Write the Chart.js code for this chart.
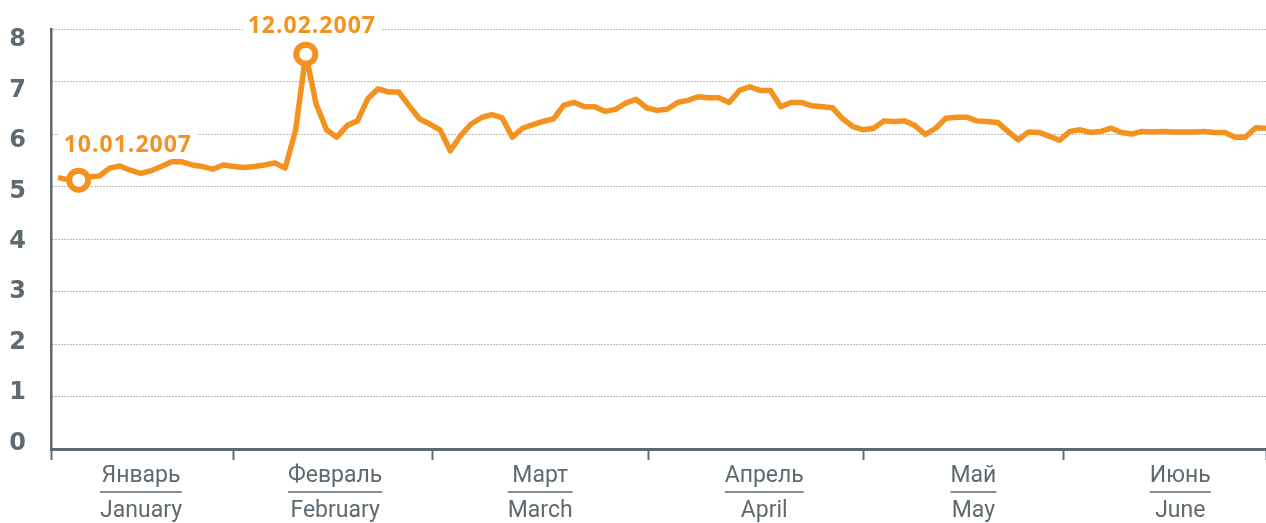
<!DOCTYPE html>
<html>
<head>
<meta charset="utf-8">
<script src="https://cdn.jsdelivr.net/npm/chart.js@4.4.0/dist/chart.umd.min.js"></script>
<style>
  html, body { margin: 0; padding: 0; background: #fff; }
  #wrap { width: 1266px; height: 523px; }
</style>
</head>
<body>
<div id="wrap"><canvas id="chart" width="1266" height="523"></canvas></div>
<script>
// Значения по торговым дням, январь – июнь 2007
const values = [
  5.17, 5.13, 5.12, 5.18, 5.20, 5.35, 5.39, 5.31, 5.25, 5.30,
  5.38, 5.47, 5.47, 5.41, 5.38, 5.33, 5.41, 5.38, 5.36, 5.38,
  5.41, 5.45, 5.35, 6.06, 7.52, 6.57, 6.08, 5.94, 6.16, 6.25,
  6.67, 6.86, 6.80, 6.80, 6.54, 6.29, 6.19, 6.08, 5.68, 5.97,
  6.19, 6.31, 6.37, 6.31, 5.94, 6.11, 6.18, 6.24, 6.29, 6.55,
  6.60, 6.52, 6.52, 6.43, 6.47, 6.59, 6.66, 6.50, 6.45, 6.47,
  6.60, 6.64, 6.71, 6.69, 6.69, 6.60, 6.83, 6.90, 6.83, 6.83,
  6.52, 6.60, 6.60, 6.54, 6.52, 6.50, 6.29, 6.14, 6.08, 6.11,
  6.25, 6.24, 6.25, 6.16, 5.99, 6.11, 6.30, 6.32, 6.32, 6.25,
  6.24, 6.22, 6.05, 5.89, 6.04, 6.03, 5.96, 5.88, 6.05, 6.08,
  6.03, 6.05, 6.11, 6.03, 6.00, 6.05, 6.04, 6.05, 6.04, 6.04,
  6.04, 6.05, 6.03, 6.03, 5.94, 5.94, 6.12, 6.11
];

// отмеченные точки
const markerIndex = [2, 24];
const markerLabels = ['10.01.2007', '12.02.2007'];

// подписи месяцев
const monthsRu = ['Январь', 'Февраль', 'Март', 'Апрель', 'Май', 'Июнь'];
const monthsEn = ['January', 'February', 'March', 'April', 'May', 'June'];
const monthEdges = [-0.68, 17, 36.3, 57.2, 78, 97.35, 117];
const monthCenters = [8.04, 26.84, 46.7, 68.4, 88.66, 108.7];

const yTicks = [0, 1, 2, 3, 4, 5, 6, 7, 8];

const ORANGE = '#F3921F';
const GREY = '#5E6A71';

// убрать автоматические отступы под крайние подписи
function noPad(s) {
  s.paddingTop = 0;
  s.paddingBottom = 0;
  s.paddingLeft = 0;
  s.paddingRight = 0;
}

// Подписи дат над отмеченными точками (с белой подложкой, разрывающей сетку)
const markerLabelPlugin = {
  id: 'markerLabels',
  beforeDatasetsDraw(chart, args, opts) {
    const meta = chart.getDatasetMeta(0);
    const ctx = chart.ctx;
    ctx.save();
    ctx.font = opts.font;
    ctx.letterSpacing = opts.letterSpacing;
    markerIndex.forEach((idx, k) => {
      const pt = meta.data[idx];
      const off = opts.offsets[k];
      const text = markerLabels[k];
      const w = ctx.measureText(text).width;
      const left = off.align === 'center' ? pt.x + off.dx - w / 2 : pt.x + off.dx;
      const base = pt.y + off.dy;
      ctx.fillStyle = '#fff';
      ctx.fillRect(left - 5, base - 22, w + 10, 28);
      ctx.fillStyle = opts.color;
      ctx.textAlign = 'left';
      ctx.textBaseline = 'alphabetic';
      ctx.fillText(text, left, base);
    });
    ctx.restore();
  }
};

// Черта между русской и английской подписью месяца
const monthRulePlugin = {
  id: 'monthRule',
  afterDraw(chart, args, opts) {
    const s = chart.scales.xm;
    const ctx = chart.ctx;
    ctx.save();
    ctx.font = opts.font;
    ctx.strokeStyle = opts.color;
    ctx.lineWidth = opts.width;
    s.ticks.forEach((t, i) => {
      const w = Math.max(ctx.measureText(monthsRu[i]).width, ctx.measureText(monthsEn[i]).width);
      const x = s.getPixelForValue(t.value);
      const y = s.top + opts.dy;
      ctx.beginPath();
      ctx.moveTo(x - w / 2, y);
      ctx.lineTo(x + w / 2, y);
      ctx.stroke();
    });
    ctx.restore();
  }
};

const ctx = document.getElementById('chart').getContext('2d');

new Chart(ctx, {
  type: 'line',
  data: {
    datasets: [{
      data: values.map((v, i) => ({ x: i, y: v })),
      borderColor: ORANGE,
      borderWidth: 5.5,
      borderJoinStyle: 'round',
      tension: 0,
      pointRadius: values.map((_, i) => markerIndex.includes(i) ? 9.5 : 0),
      pointBorderWidth: 6,
      pointBackgroundColor: '#fff',
      pointBorderColor: ORANGE
    }]
  },
  options: {
    responsive: false,
    animation: false,
    events: [],
    layout: { padding: { top: 29, left: 0, right: 0, bottom: 0 } },
    plugins: {
      legend: { display: false },
      tooltip: { enabled: false },
      markerLabels: {
        font: 'bold 23px "Open Sans"',
        letterSpacing: '1px',
        color: ORANGE,
        offsets: [
          { dx: -15, dy: -28, align: 'left' },
          { dx: 6, dy: -21, align: 'center' }
        ]
      },
      monthRule: { font: '23px Roboto', color: GREY, width: 1.6, dy: 35 }
    },
    scales: {
      x: {
        type: 'linear',
        min: monthEdges[0],
        max: monthEdges[monthEdges.length - 1],
        afterBuildTicks: (s) => { s.ticks = monthEdges.map(v => ({ value: v })); },
        ticks: { display: false },
        grid: { drawOnChartArea: false, drawTicks: true, tickLength: 11, tickWidth: 2, tickColor: GREY },
        border: { display: true, color: GREY, width: 3 },
        afterFit: (s) => { s.height = 8; noPad(s); }
      },
      xm: {
        type: 'linear',
        position: 'bottom',
        weight: 1,
        min: monthEdges[0],
        max: monthEdges[monthEdges.length - 1],
        afterBuildTicks: (s) => { s.ticks = monthCenters.map(v => ({ value: v })); },
        ticks: {
          autoSkip: false,
          maxRotation: 0,
          padding: 2,
          color: GREY,
          font: { family: 'Roboto', size: 23, lineHeight: 1.52 },
          callback: (v, i) => [monthsRu[i], monthsEn[i]]
        },
        grid: { display: false, drawTicks: false },
        border: { display: false },
        afterFit: (s) => { s.height = 66; noPad(s); }
      },
      y: {
        min: 0,
        max: 8,
        afterBuildTicks: (s) => { s.ticks = yTicks.map(v => ({ value: v })); },
        ticks: { display: false },
        grid: { color: '#7d7d7d', lineWidth: 1, drawTicks: false },
        border: { display: true, color: GREY, width: 2.5, dash: [1, 2] },
        afterFit: (s) => { s.width = 0; noPad(s); }
      },
      yl: {
        position: 'left',
        weight: 1,
        min: -0.109,
        max: 8.218,
        afterBuildTicks: (s) => { s.ticks = yTicks.map(v => ({ value: v })); },
        ticks: {
          color: GREY,
          crossAlign: 'center',
          padding: 25,
          font: { family: 'DejaVu Sans', weight: 'bold', size: 24 }
        },
        grid: { display: false, drawTicks: false },
        border: { display: false },
        afterFit: (s) => { s.width = 51; noPad(s); }
      }
    }
  },
  plugins: [markerLabelPlugin, monthRulePlugin]
});
</script>
</body>
</html>
